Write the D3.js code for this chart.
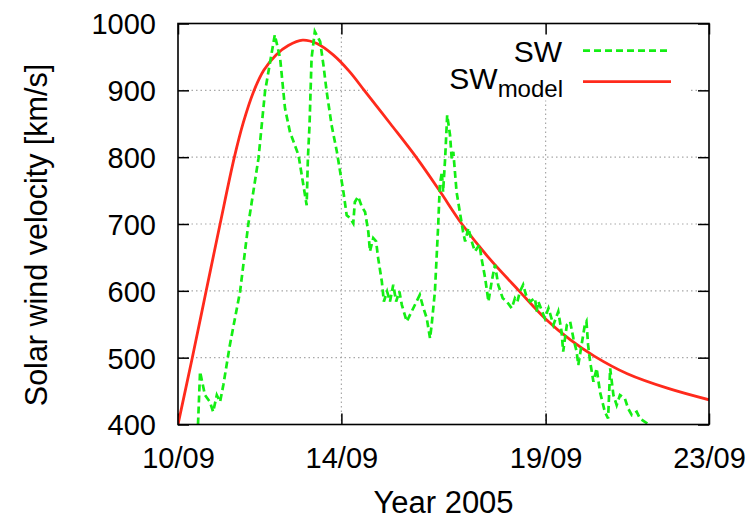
<!DOCTYPE html>
<html>
<head>
<meta charset="utf-8">
<script src="https://cdn.jsdelivr.net/npm/d3@7"></script>
<style>
  body { margin: 0; background: #fff; }
  svg { display: block; }
  svg text { font-family: "Liberation Sans", Arial, Helvetica, sans-serif; }
</style>
</head>
<body>
<svg id="chart" width="751" height="520"></svg>
<script>
// measured solar wind (day of September 2005, km/s)
var swDays = [10.49, 10.54, 10.66, 10.78, 10.86, 10.95, 11.03, 11.11, 11.27, 11.52, 11.72, 11.97, 12.13, 12.37,
  12.50, 12.62, 12.74, 12.86, 12.95, 13.07, 13.15, 13.18, 13.22, 13.27, 13.35, 13.48, 13.56, 13.64, 13.76,
  13.89, 13.97, 14.05, 14.13, 14.21, 14.29, 14.33, 14.41, 14.50, 14.58, 14.66, 14.70, 14.78, 14.85, 14.90,
  14.99, 15.04, 15.12, 15.19, 15.27, 15.34, 15.42, 15.48, 15.60, 15.72, 15.84, 15.92, 16.00, 16.09, 16.17,
  16.21, 16.29, 16.37, 16.41, 16.46, 16.49, 16.54, 16.59, 16.66, 16.70, 16.74, 16.78, 16.82, 16.90, 16.98,
  17.03, 17.11, 17.19, 17.27, 17.38, 17.43, 17.52, 17.60, 17.68, 17.76, 17.84, 17.95, 18.05, 18.17, 18.25,
  18.31, 18.37, 18.45, 18.52, 18.62, 18.74, 18.78, 18.82, 18.98, 19.07, 19.19, 19.31, 19.39, 19.43, 19.52,
  19.60, 19.68, 19.76, 19.80, 19.88, 19.96, 20.00, 20.04, 20.09, 20.17, 20.25, 20.33, 20.45, 20.53, 20.58,
  20.66, 20.74, 20.82, 20.94, 21.02, 21.11, 21.23, 21.31, 21.43, 21.55];
var swValues = [400, 479, 444, 434, 419, 444, 434, 459, 519, 599, 699, 798, 898, 983,
  948, 873, 838, 818, 803, 758, 728, 798, 848, 948, 988, 973, 938, 898, 848,
  808, 778, 748, 713, 709, 701, 733, 741, 726, 718, 688, 659, 679, 674, 649,
  614, 584, 599, 584, 609, 584, 599, 579, 554, 569, 584, 594, 576, 559, 529,
  549, 599, 698, 758, 778, 748, 798, 863, 833, 798, 808, 778, 748, 718, 688,
  674, 694, 674, 659, 669, 649, 619, 584, 614, 639, 609, 589, 584, 574, 589,
  584, 599, 609, 594, 584, 589, 569, 584, 559, 574, 549, 569, 539, 509, 549,
  554, 529, 509, 489, 519, 549, 554, 519, 494, 464, 484, 449, 419, 409, 484,
  444, 429, 444, 439, 424, 414, 419, 409, 404, 399];

// model curve
var modelDays = [10.0, 10.35, 10.69, 11.03, 11.38, 11.60, 11.85, 12.10, 12.40, 12.70, 13.05, 13.40, 13.80,
  14.20, 14.56, 15.20, 15.83, 16.40, 16.95, 17.60, 18.35, 19.00, 19.60, 20.20, 21.00, 22.00, 23.00];
var modelValues = [400, 500, 600, 700, 800, 852, 898, 930, 953, 967, 975, 970, 953,
  928, 900, 850, 800, 750, 700, 650, 600, 558, 527, 502, 476, 454, 437];

var xTickDays = [10, 14, 19, 23];
var yTicks = [400, 500, 600, 700, 800, 900, 1000];

var legendLabels = ["SW", "SW"];
var legendSubs = ["", "model"];

function toDate(day) { return new Date(Date.UTC(2005, 8, 10) + (day - 10) * 864e5); }

var svg = d3.select("#chart");
var margin = {left: 178, right: 42, top: 23.5, bottom: 95.5};
var width = 751 - margin.left - margin.right,
    height = 520 - margin.top - margin.bottom;

var x = d3.scaleUtc().domain([toDate(10), toDate(23)]).range([0, width]);
var y = d3.scaleLinear().domain([400, 1000]).range([height, 0]);

var g = svg.append("g").attr("transform", "translate(" + margin.left + "," + margin.top + ")");

// grid (dotted)
g.selectAll(".hgrid").data(yTicks.slice(1, -1)).enter().append("line")
  .attr("x1", 0).attr("x2", width)
  .attr("y1", function(d) { return y(d); }).attr("y2", function(d) { return y(d); })
  .attr("stroke", "#a8a8a8").attr("stroke-width", 1.2).attr("stroke-dasharray", "1.5,3");
g.selectAll(".vgrid").data(xTickDays.slice(1, -1)).enter().append("line")
  .attr("x1", function(d) { return x(toDate(d)); }).attr("x2", function(d) { return x(toDate(d)); })
  .attr("y1", 0).attr("y2", height)
  .attr("stroke", "#a8a8a8").attr("stroke-width", 1.2).attr("stroke-dasharray", "1.5,3");

// key box hides grid behind it
g.append("rect")
  .attr("x", 368 - margin.left).attr("y", 1).attr("width", 322).attr("height", 76)
  .attr("fill", "#fff");

// ticks on all four sides, pointing inward
var tickLen = 11;
var yAxisL = d3.axisLeft(y).tickValues(yTicks).tickSize(-tickLen).tickFormat(d3.format("d")).tickPadding(tickLen + 11);
var yAxisR = d3.axisRight(y).tickValues(yTicks).tickSize(-tickLen).tickFormat("");
var xAxisB = d3.axisBottom(x).tickValues(xTickDays.map(toDate)).tickSize(-tickLen)
  .tickFormat(d3.utcFormat("%d/%m")).tickPadding(tickLen + 32);
var xAxisT = d3.axisTop(x).tickValues(xTickDays.map(toDate)).tickSize(-tickLen).tickFormat("");

function styleAxis(sel) {
  sel.attr("font-family", null).attr("font-size", null);
  sel.select(".domain").remove();
  sel.selectAll(".tick line").attr("stroke", "#000").attr("stroke-width", 1.5);
  sel.selectAll(".tick text").attr("fill", "#000").style("font-size", "29px");
}
g.append("g").call(yAxisL).call(styleAxis).selectAll(".tick text").attr("dy", "0.36em");
g.append("g").attr("transform", "translate(" + width + ",0)").call(yAxisR).call(styleAxis);
g.append("g").attr("transform", "translate(0," + height + ")").call(xAxisB).call(styleAxis)
  .selectAll(".tick text").attr("dy", "0");
g.append("g").call(xAxisT).call(styleAxis);

// data lines
svg.append("clipPath").attr("id", "clip").append("rect")
  .attr("width", width).attr("height", height);
var plot = g.append("g").attr("clip-path", "url(#clip)");

var sw = swDays.map(function(d, i) { return {t: toDate(d), v: swValues[i]}; });
var model = modelDays.map(function(d, i) { return {t: toDate(d), v: modelValues[i]}; });

var line = d3.line().x(function(d) { return x(d.t); }).y(function(d) { return y(d.v); });

plot.append("path").datum(model)
  .attr("d", line.curve(d3.curveCatmullRom.alpha(0.5)))
  .attr("fill", "none").attr("stroke", "#ff2a1c").attr("stroke-width", 2.8);

plot.append("path").datum(sw)
  .attr("d", line.curve(d3.curveLinear))
  .attr("fill", "none").attr("stroke", "#14ee14").attr("stroke-width", 2.7)
  .attr("stroke-dasharray", "7,4");

// frame
g.append("rect").attr("width", width).attr("height", height)
  .attr("fill", "none").attr("stroke", "#000").attr("stroke-width", 1.6);

// key
var keyColors = ["#14ee14", "#ff2a1c"];
var keyDash = ["7,4", null];
var keyY = [50.7, 81.7];
var key = svg.append("g");
legendLabels.forEach(function(lab, i) {
  var t = key.append("text")
    .attr("x", i == 0 ? 562 : 563).attr("y", keyY[i] + (i == 0 ? 10.8 : 7.5))
    .attr("text-anchor", "end").style("font-size", "30px");
  t.append("tspan").text(lab);
  if (legendSubs[i]) {
    t.append("tspan").attr("dy", 8).style("font-size", "24px").text(legendSubs[i]);
  }
  key.append("line")
    .attr("x1", 583).attr("x2", 671).attr("y1", keyY[i]).attr("y2", keyY[i])
    .attr("stroke", keyColors[i]).attr("stroke-width", 2.8)
    .attr("stroke-dasharray", keyDash[i]);
});

// axis titles
svg.append("text")
  .attr("x", 443.5).attr("y", 513).attr("text-anchor", "middle")
  .style("font-size", "31px").text("Year 2005");
svg.append("text")
  .attr("transform", "translate(47,235) rotate(-90)").attr("text-anchor", "middle")
  .style("font-size", "30.5px").text("Solar wind velocity [km/s]");
</script>
</body>
</html>
